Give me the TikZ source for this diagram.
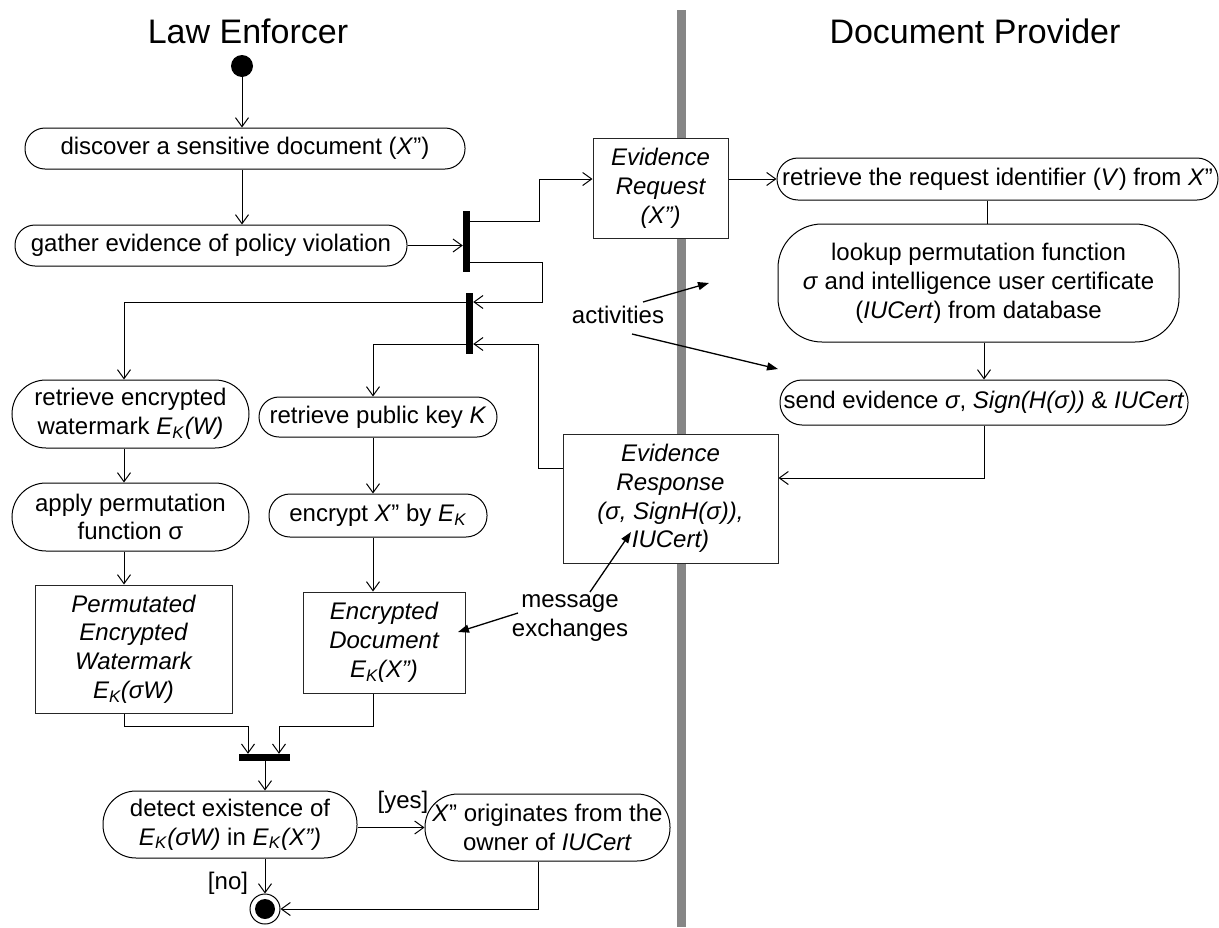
\documentclass[tikz,border=0pt]{standalone}
\usepackage{fontspec}
\setmainfont{Liberation Sans}
\usetikzlibrary{arrows.meta,calc}
\definecolor{lanegray}{RGB}{134,134,134}
\newcommand{\EK}{\textit{E}\textsubscript{\textit{K}}}
\begin{document}
\begin{tikzpicture}[x=1pt,y=-1pt,
  font=\fontsize{24}{28.8}\selectfont,
  act/.style={draw, rounded corners=#1, fill=white, align=center, inner sep=0pt, line width=1pt},
  obj/.style={draw=black!85, fill=white, align=center, inner sep=0pt, line width=1pt, font=\fontsize{24}{28.8}\selectfont\itshape},
  bar/.style={fill=black, inner sep=0pt, draw=none},
  flow/.style={-{Straight Barb[length=9pt,width=13pt]}, line width=1pt},
  note/.style={-{Triangle[length=11pt,width=8pt]}, line width=1.3pt},
  lbl/.style={inner sep=0pt, align=center},
  title/.style={inner sep=0pt, anchor=base, font=\fontsize{34}{40}\selectfont}]
\useasboundingbox (0,0) rectangle (1219,927);
% swimlane separator
\coordinate (laneTop) at (681,10);
\coordinate (laneBot) at (681,927);
\draw[line width=9pt, lanegray] (laneTop) -- (laneBot);
% titles
\node[title] (tLaw) at (248,43) {Law Enforcer};
\node[title] (tDoc) at (975,43) {Document Provider};
% start / end
\node[circle, fill=black, minimum size=22, inner sep=0pt] (start) at (242,66) {};
\node[circle, draw, line width=1pt, minimum size=30, inner sep=0pt] (final) at (265,909) {};
\node[circle, fill=black, minimum size=20, inner sep=0pt] (finalin) at (265,909) {};
% activities
\node[act=20, minimum width=440, minimum height=41] (discover) at (245,148.5) {discover a sensitive document (\textit{X}”)};
\node[act=20, minimum width=392, minimum height=41] (gather) at (211,245.5) {gather evidence of policy violation};
\node[act=21, minimum width=441, minimum height=42] (retrieve) at (997.5,179) {retrieve the request identifier (\textit{V}) from \textit{X}”};
\node[act=44, minimum width=401, minimum height=118] (lookup) at (978.5,283) {lookup permutation function\\\textit{σ} and intelligence user certificate\\(\textit{IUCert}) from database};
\node[act=22, minimum width=408, minimum height=45] (send) at (984,402.5) {send evidence \textit{σ}, \textit{Sign(H(σ))} \& \textit{IUCert}};
\node[act=34, minimum width=237, minimum height=68] (wm) at (130.5,414) {retrieve encrypted\\watermark \EK\textit{(W)}};
\node[act=34, minimum width=237, minimum height=68] (apply) at (130.5,517) {apply permutation\\function σ};
\node[act=20, minimum width=238, minimum height=40] (pk) at (378,417) {retrieve public key \textit{K}};
\node[act=21, minimum width=218, minimum height=43] (enc) at (378,515.5) {encrypt \textit{X}” by \EK};
\node[act=33, minimum width=254, minimum height=67] (detect) at (230,824.5) {detect existence of\\\EK\textit{(σW)} in \EK\textit{(X”)}};
\node[act=33, minimum width=245, minimum height=67] (orig) at (547.5,827.5) {\textit{X}” originates from the\\owner of \textit{IUCert}};
% objects
\node[obj, minimum width=135, minimum height=100] (ERreq) at (660.5,188) {Evidence\\Request\\(X”)};
\node[obj, minimum width=215, minimum height=129] (ERresp) at (670.5,498.5) {Evidence\\Response\\(σ, SignH(σ)),\\IUCert)};
\node[obj, minimum width=197, minimum height=128] (perm) at (133.5,649) {Permutated\\Encrypted\\Watermark\\\EK(σW)};
\node[obj, minimum width=162, minimum height=101] (encdoc) at (384,642.5) {Encrypted\\Document\\\EK(X”)};
% bars
\node[bar, minimum width=7, minimum height=61] (bar1) at (466.5,241.5) {};
\node[bar, minimum width=7, minimum height=61] (bar2) at (469.5,323.5) {};
\node[bar, minimum width=51, minimum height=7] (bar3) at (264.5,757.5) {};
% routing points
\coordinate (p1) at (539,221);
\coordinate (k1) at (539,179);
\coordinate (p2) at (542,262);
\coordinate (p3) at (542,302);
\coordinate (p4) at (538,468);
\coordinate (p5) at (538,344);
\coordinate (q1) at (124,302);
\coordinate (q2) at (373,344);
\coordinate (c987) at (987,0);
\coordinate (k2) at (984,478);
\coordinate (r1) at (124,726);
\coordinate (r2) at (248,726);
\coordinate (r3) at (373,726);
\coordinate (r4) at (279,726);
\coordinate (s1) at (265,0);
\coordinate (t1) at (538,909);
% flows
\draw[flow] (start.south) -- (start.south |- discover.north);
\draw[flow] (discover.south -| start) -- (gather.north -| start);
\draw[flow] (gather.east) -- (gather.east -| bar1.west);
\draw[flow] (bar1.east |- p1) -- (p1) -- (k1) -- (k1 -| ERreq.west);
\draw[flow] (ERreq.east |- k1) -- (k1 -| retrieve.west);
\draw (retrieve.south -| c987) -- (lookup.north -| c987);
\draw[flow] (send.north |- lookup.south) -- (send.north);
\draw[flow] (send.south) -- (k2) -- (k2 -| ERresp.east);
\draw[flow] (bar1.east |- p2) -- (p2) -- (p3) -- (p3 -| bar2.east);
\draw[flow] (ERresp.west |- p4) -- (p4) -- (p5) -- (p5 -| bar2.east);
\draw[flow] (bar2.west |- q1) -- (q1) -- (q1 |- wm.north);
\draw[flow] (bar2.west |- q2) -- (q2) -- (q2 |- pk.north);
\draw[flow] (wm.south -| q1) -- (apply.north -| q1);
\draw[flow] (apply.south -| q1) -- (perm.north -| q1);
\draw[flow] (pk.south -| q2) -- (enc.north -| q2);
\draw[flow] (enc.south -| q2) -- (encdoc.north -| q2);
\draw[flow] (perm.south -| r1) -- (r1) -- (r2) -- (r2 |- bar3.north);
\draw[flow] (encdoc.south -| r3) -- (r3) -- (r4) -- (r4 |- bar3.north);
\draw[flow] (bar3.south -| s1) -- (detect.north -| s1);
\draw[flow] (detect.east |- orig.west) -- (orig.west);
\draw[flow] (detect.south -| s1) -- (final.north);
\draw[flow] (orig.south -| t1) -- (t1) -- (final.east);
% guard labels
\node[lbl] (yes) at (403,802) {[yes]};
\node[lbl] (no) at (228,883) {[no]};
% annotations
\node[lbl] (actv) at (618,315) {activities};
\coordinate (a1) at (709,283);
\coordinate (a2) at (778,369);
\draw[note] ($(actv)+(25,-13)$) -- (a1);
\draw[note] ($(actv)+(14,19)$) -- (a2);
\node[lbl] (msg) at (570,618) {message\\exchanges};
\coordinate (m1) at (631,532);
\coordinate (m2) at (458,632);
\draw[note] ($(msg)+(20,-26)$) -- (m1);
\draw[note] ($(msg)+(-52,-5)$) -- (m2);
\end{tikzpicture}
\end{document}
